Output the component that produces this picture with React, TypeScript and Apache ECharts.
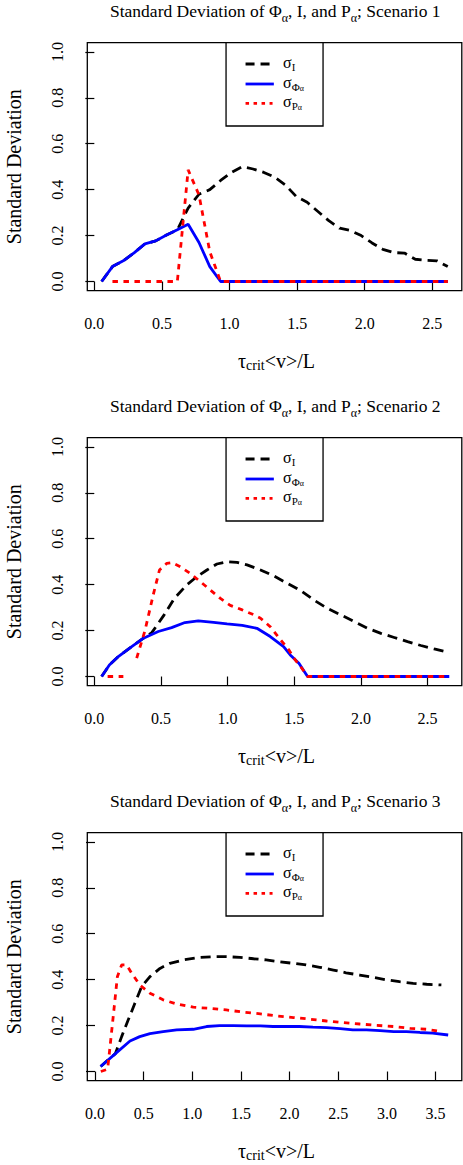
import React, { useEffect, useRef } from 'react';
import * as echarts from 'echarts';

const FONT = "'Liberation Serif', 'Times New Roman', 'DejaVu Serif', serif";

// ---------- Scenario 1 ----------
const s1PhiX = [0.054, 0.134, 0.214, 0.294, 0.374, 0.454, 0.534, 0.614, 0.694, 0.774, 0.854, 0.934, 2.615];
const s1PhiY = [0, 0.065, 0.09, 0.125, 0.164, 0.177, 0.203, 0.225, 0.249, 0.17, 0.065, 0, 0];
const s1PX = [0.134, 0.614, 0.694, 0.774, 0.854, 0.934, 2.615];
const s1PY = [0, 0, 0.486, 0.377, 0.13, 0, 0];
const s1IX = [0.054, 0.134, 0.214, 0.294, 0.374, 0.454, 0.534, 0.614, 0.694, 0.774, 0.854, 0.934, 1.014, 1.094, 1.174, 1.254, 1.334, 1.414, 1.494, 1.574, 1.654, 1.734, 1.814, 1.894, 1.974, 2.054, 2.134, 2.214, 2.294, 2.374, 2.454, 2.534, 2.614];
const s1IY = [0, 0.065, 0.09, 0.125, 0.164, 0.177, 0.203, 0.225, 0.32, 0.38, 0.4, 0.44, 0.475, 0.5, 0.49, 0.475, 0.454, 0.42, 0.37, 0.345, 0.305, 0.265, 0.232, 0.222, 0.2, 0.168, 0.14, 0.126, 0.124, 0.097, 0.092, 0.09, 0.065];

// ---------- Scenario 2 ----------
const s2PhiX = [0.055, 0.113, 0.18, 0.268, 0.369, 0.48, 0.58, 0.68, 0.78, 0.895, 0.996, 1.11, 1.22, 1.32, 1.42, 1.47, 1.535, 1.6, 2.663];
const s2PhiY = [0, 0.05, 0.087, 0.125, 0.167, 0.196, 0.213, 0.235, 0.242, 0.236, 0.229, 0.223, 0.21, 0.174, 0.13, 0.094, 0.058, 0, 0];
const s2PX = [0.1, 0.218, 0.26, 0.318, 0.38, 0.444, 0.489, 0.544, 0.582, 0.645, 0.72, 0.795, 0.87, 0.946, 1.02, 1.11, 1.2, 1.247, 1.32, 1.397, 1.46, 1.497, 1.548, 1.6, 2.663];
const s2PY = [0, 0, null, 0.08, 0.2, 0.36, 0.464, 0.493, 0.496, 0.478, 0.449, 0.413, 0.377, 0.34, 0.31, 0.29, 0.268, 0.254, 0.217, 0.16, 0.116, 0.08, 0.043, 0, 0];
const s2IX = [0.055, 0.113, 0.18, 0.268, 0.369, 0.43, 0.52, 0.6, 0.695, 0.77, 0.845, 0.92, 0.996, 1.07, 1.146, 1.247, 1.347, 1.447, 1.548, 1.648, 1.748, 1.85, 1.95, 2.05, 2.15, 2.25, 2.35, 2.45, 2.55, 2.663];
const s2IY = [0, 0.05, 0.087, 0.125, 0.167, 0.19, 0.265, 0.34, 0.4, 0.435, 0.464, 0.49, 0.5, 0.497, 0.486, 0.464, 0.438, 0.406, 0.374, 0.333, 0.297, 0.268, 0.239, 0.21, 0.188, 0.17, 0.152, 0.135, 0.12, 0.104];

// ---------- Scenario 3 ----------
const s3PhiX = [0.058, 0.21, 0.36, 0.46, 0.565, 0.7, 0.84, 1.01, 1.147, 1.28, 1.42, 1.56, 1.7, 1.83, 1.97, 2.1, 2.24, 2.38, 2.52, 2.65, 2.79, 2.93, 3.07, 3.2, 3.34, 3.47, 3.63];
const s3PhiY = [0.022, 0.078, 0.133, 0.152, 0.165, 0.174, 0.181, 0.184, 0.196, 0.2, 0.2, 0.199, 0.199, 0.196, 0.196, 0.196, 0.193, 0.191, 0.187, 0.181, 0.181, 0.178, 0.174, 0.174, 0.17, 0.167, 0.159];
const s3PX = [0.06, 0.13, 0.19, 0.23, 0.274, 0.325, 0.377, 0.46, 0.565, 0.7, 0.84, 1.01, 1.18, 1.35, 1.52, 1.7, 1.87, 2.04, 2.21, 2.38, 2.55, 2.72, 2.89, 3.07, 3.24, 3.41, 3.56];
const s3PY = [0, 0.01, 0.25, 0.413, 0.464, 0.464, 0.428, 0.377, 0.341, 0.312, 0.294, 0.28, 0.275, 0.268, 0.259, 0.251, 0.242, 0.235, 0.228, 0.22, 0.213, 0.207, 0.201, 0.196, 0.188, 0.184, 0.174];
const s3IX = [0.058, 0.21, 0.274, 0.342, 0.41, 0.48, 0.565, 0.668, 0.77, 0.908, 1.08, 1.216, 1.353, 1.49, 1.63, 1.76, 1.9, 2.04, 2.17, 2.31, 2.45, 2.58, 2.72, 2.86, 3.0, 3.13, 3.27, 3.41, 3.56];
const s3IY = [0.022, 0.078, 0.152, 0.225, 0.297, 0.37, 0.413, 0.449, 0.471, 0.486, 0.497, 0.5, 0.5, 0.497, 0.491, 0.486, 0.478, 0.471, 0.464, 0.454, 0.442, 0.43, 0.42, 0.41, 0.399, 0.391, 0.384, 0.38, 0.377];

// ---------- axes ----------
const xTicks12 = [0, 0.5, 1, 1.5, 2, 2.5];
const xTicks3 = [0, 0.5, 1, 1.5, 2, 2.5, 3, 3.5];
const yTicks = [0, 0.2, 0.4, 0.6, 0.8, 1.0];
const scenarioNames = ['1', '2', '3'];

// layout
const GRID_LEFT = 87.3;
const GRID_W = 374.5;
const GRID_H = 248;
const GRID_TOPS = [42.7, 437.7, 832.7];
const X_RANGES = [[-0.052, 2.718], [-0.0525, 2.757], [-0.079, 3.77]];

const panels = [
  { I: [s1IX, s1IY], Phi: [s1PhiX, s1PhiY], P: [s1PX, s1PY], ticks: xTicks12 },
  { I: [s2IX, s2IY], Phi: [s2PhiX, s2PhiY], P: [s2PX, s2PY], ticks: xTicks12 },
  { I: [s3IX, s3IY], Phi: [s3PhiX, s3PhiY], P: [s3PX, s3PY], ticks: xTicks3 },
];

const zip = (xs: number[], ys: (number | null)[]) =>
  xs.map((x, i) => [x, ys[i] === null ? '-' : ys[i]]);

function buildOption() {
  const grid: any[] = [];
  const xAxis: any[] = [];
  const yAxis: any[] = [];
  const series: any[] = [];
  const graphic: any[] = [];
  const cx = GRID_LEFT + GRID_W / 2;

  panels.forEach((p, i) => {
    const top = GRID_TOPS[i];
    grid.push({
      left: GRID_LEFT, top, width: GRID_W, height: GRID_H,
      show: true, borderColor: '#000', borderWidth: 1.3, backgroundColor: 'transparent',
    });
    xAxis.push({
      type: 'value', gridIndex: i, min: X_RANGES[i][0], max: X_RANGES[i][1], offset: 1.5,
      axisLine: { show: false }, splitLine: { show: false },
      axisTick: { show: true, length: 9.5, customValues: p.ticks, lineStyle: { color: '#000', width: 1.2 } },
      axisLabel: {
        customValues: p.ticks, formatter: (v: number) => v.toFixed(1), margin: 23,
        fontSize: 16, fontFamily: FONT, color: '#000',
      },
    });
    yAxis.push({
      type: 'value', gridIndex: i, min: -0.04, max: 1.04, offset: 1,
      axisLine: { show: false }, splitLine: { show: false },
      axisTick: { show: true, length: 9, customValues: yTicks, lineStyle: { color: '#000', width: 1.2 } },
      axisLabel: {
        customValues: yTicks, formatter: (v: number) => v.toFixed(1), margin: 20.5, rotate: 90,
        fontSize: 16, fontFamily: FONT, color: '#000',
      },
    });
    series.push({
      type: 'line', name: 'sigmaI', xAxisIndex: i, yAxisIndex: i, data: zip(p.I[0], p.I[1]),
      showSymbol: false, symbol: 'none', lineStyle: { color: '#000', width: 2.8, type: [10, 6], cap: 'butt' },
    });
    series.push({
      type: 'line', name: 'sigmaPhi', xAxisIndex: i, yAxisIndex: i, data: zip(p.Phi[0], p.Phi[1]),
      showSymbol: false, symbol: 'none', lineStyle: { color: '#0000ff', width: 2.8, type: 'solid' },
    });
    series.push({
      type: 'line', name: 'sigmaP', xAxisIndex: i, yAxisIndex: i, data: zip(p.P[0], p.P[1] as any),
      showSymbol: false, symbol: 'none', connectNulls: false,
      lineStyle: { color: '#ff0000', width: 2.8, type: [5.5, 5.5], cap: 'butt' },
    });

    const txt = (fontSize: number, extra: any = {}) => ({
      fontSize, fontFamily: FONT, fill: '#000', ...extra,
    });

    // title
    graphic.push({
      type: 'text', x: 110, y: top - 30 - 11, z: 10,
      style: {
        text: '{n|Standard Deviation of Φ}{s|α}{n|, I, and P}{s|α}{n|; Scenario ' + scenarioNames[i] + '}',
        align: 'left', verticalAlign: 'top', fontFamily: FONT, fontSize: 17.5,
        rich: {
          n: txt(17.5, { lineHeight: 22, verticalAlign: 'top' }),
          s: txt(12, { lineHeight: 12, padding: [10, 0, 0, 0], verticalAlign: 'bottom' }),
        },
      },
    });
    // y axis title
    graphic.push({
      type: 'text', x: 14, y: top + GRID_H / 2, rotation: Math.PI / 2, z: 10,
      style: { text: 'Standard Deviation', fontSize: 20, fontFamily: FONT, fill: '#000', align: 'center', verticalAlign: 'middle' },
    });
    // x axis title
    graphic.push({
      type: 'text', x: cx + 2, y: top + GRID_H + 71 - 11, z: 10,
      style: {
        text: '{n|τ}{s|crit}{n|<v>/L}',
        align: 'center', verticalAlign: 'top', fontFamily: FONT, fontSize: 20,
        rich: {
          n: txt(20, { lineHeight: 22, verticalAlign: 'top' }),
          s: txt(14, { lineHeight: 14, padding: [11, 0, 0, 0], verticalAlign: 'bottom' }),
        },
      },
    });
    // legend
    const lx0 = cx - 48.5;
    graphic.push({
      type: 'rect', z: 10,
      shape: { x: lx0, y: top, width: 97, height: 83.3 },
      style: { fill: '#fff', stroke: '#000', lineWidth: 1.3 },
    });
    const rows = [top + 21.3, top + 41.3, top + 60.6];
    const sx1 = lx0 + 19.5;
    graphic.push({
      type: 'line', z: 11, shape: { x1: sx1, y1: rows[0], x2: sx1 + 24.5, y2: rows[0] },
      style: { stroke: '#000', lineWidth: 2.8, lineDash: [9, 6] },
    });
    graphic.push({
      type: 'line', z: 11, shape: { x1: sx1, y1: rows[1], x2: sx1 + 28.3, y2: rows[1] },
      style: { stroke: '#0000ff', lineWidth: 2.8 },
    });
    graphic.push({
      type: 'line', z: 11, shape: { x1: sx1, y1: rows[2], x2: sx1 + 27, y2: rows[2] },
      style: { stroke: '#ff0000', lineWidth: 2.8, lineDash: [3.5, 4.5] },
    });
    const legRich = {
      m: txt(16, { lineHeight: 18, verticalAlign: 'top' }),
      s: txt(11, { lineHeight: 11, padding: [10, 0, 0, 0], verticalAlign: 'bottom' }),
      ss: txt(8, { lineHeight: 8, padding: [16, 0, 0, 0], verticalAlign: 'bottom' }),
    };
    const legTexts = ['{m|σ}{s|I}', '{m|σ}{s|Φ}{ss|α}', '{m|σ}{s|P}{ss|α}'];
    legTexts.forEach((t, k) => {
      graphic.push({
        type: 'text', z: 11, x: lx0 + 57, y: rows[k] - 10,
        style: { text: t, align: 'left', verticalAlign: 'top', fontFamily: FONT, fontSize: 16, rich: legRich },
      });
    });
  });

  return {
    animation: false, backgroundColor: '#fff',
    textStyle: { fontFamily: FONT },
    grid, xAxis, yAxis, series, graphic,
  };
}

export default function App() {
  const ref = useRef<HTMLDivElement>(null);
  useEffect(() => {
    if (!ref.current) return;
    const chart = echarts.init(ref.current, undefined, { renderer: 'svg' });
    chart.setOption(buildOption() as any);
    return () => chart.dispose();
  }, []);
  return (
    <div
      ref={ref}
      style={{ position: 'absolute', left: 0, top: 0, width: 463, height: 1165, background: '#fff' }}
    />
  );
}
